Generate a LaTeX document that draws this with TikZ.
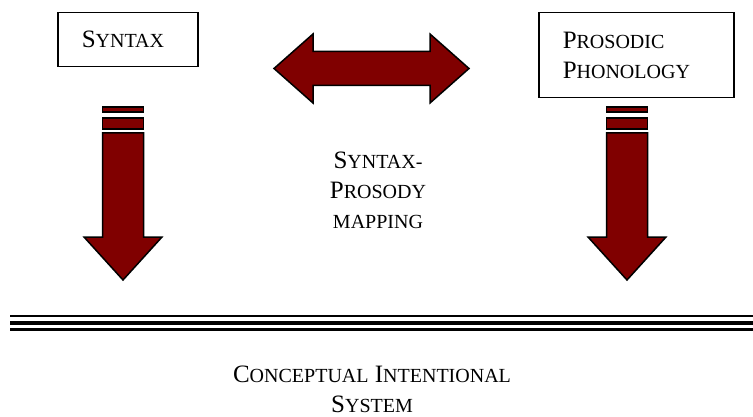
\documentclass[tikz,border=0pt]{standalone}
\usepackage{fontspec}
\setmainfont{Liberation Serif}
\definecolor{arrowred}{RGB}{128,0,0}
\newcommand{\fsc}[2]{#1{\fontsize{20}{30}\selectfont #2}}
\tikzset{
  box/.style={draw, line width=1.5pt, anchor=north west, align=left,
    inner xsep=24pt, inner ysep=0pt, font=\fontsize{25}{30}\selectfont},
  blockarrow/.style={fill=arrowred, draw=black, line width=1.5pt, line join=miter},
  lbl/.style={align=center, inner sep=0pt, font=\fontsize{25}{30}\selectfont}
}
\begin{document}
\begin{tikzpicture}[x=1pt,y=-1pt]
\useasboundingbox (0,0) rectangle (753,417);
\node[box, text width=92pt, minimum height=54pt] (syntax) at (57,12) {\fsc{S}{YNTAX}};
\node[box, text width=147pt, minimum height=85pt] (prosodic) at (538,12) {\fsc{P}{ROSODIC}\\\fsc{P}{HONOLOGY}};
% two-way arrow
\draw[blockarrow] (274,68.5) -- (313,34) -- (313,51.5) -- (430,51.5) -- (430,34) -- (469,68.5)
  -- (430,103) -- (430,85.5) -- (313,85.5) -- (313,103) -- cycle;
% left down arrow
\draw[blockarrow] (102.5,107) rectangle (143.5,112);
\draw[blockarrow] (102.5,118) rectangle (143.5,129);
\draw[blockarrow] (102.5,133) -- (143.5,133) -- (143.5,237) -- (162,237) -- (123,280)
  -- (84,237) -- (102.5,237) -- cycle;
% right down arrow
\draw[blockarrow] (606.5,107) rectangle (647.5,112);
\draw[blockarrow] (606.5,118) rectangle (647.5,129);
\draw[blockarrow] (606.5,133) -- (647.5,133) -- (647.5,237) -- (666,237) -- (627,280)
  -- (588,237) -- (606.5,237) -- cycle;
\node[lbl] (mapping) at (378,190) {\fsc{S}{YNTAX-}\\\fsc{P}{ROSODY}\\{\fontsize{20}{31}\selectfont MAPPING}};
% triple rule
\draw[line width=2.3pt] (10,316) -- (753,316);
\draw[line width=4.3pt] (10,323) -- (753,323);
\draw[line width=2.3pt] (10,329.5) -- (753,329.5);
\node[lbl] (cis) at (372,389) {\fsc{C}{ONCEPTUAL} \fsc{I}{NTENTIONAL}\\\fsc{S}{YSTEM}};
\end{tikzpicture}
\end{document}
